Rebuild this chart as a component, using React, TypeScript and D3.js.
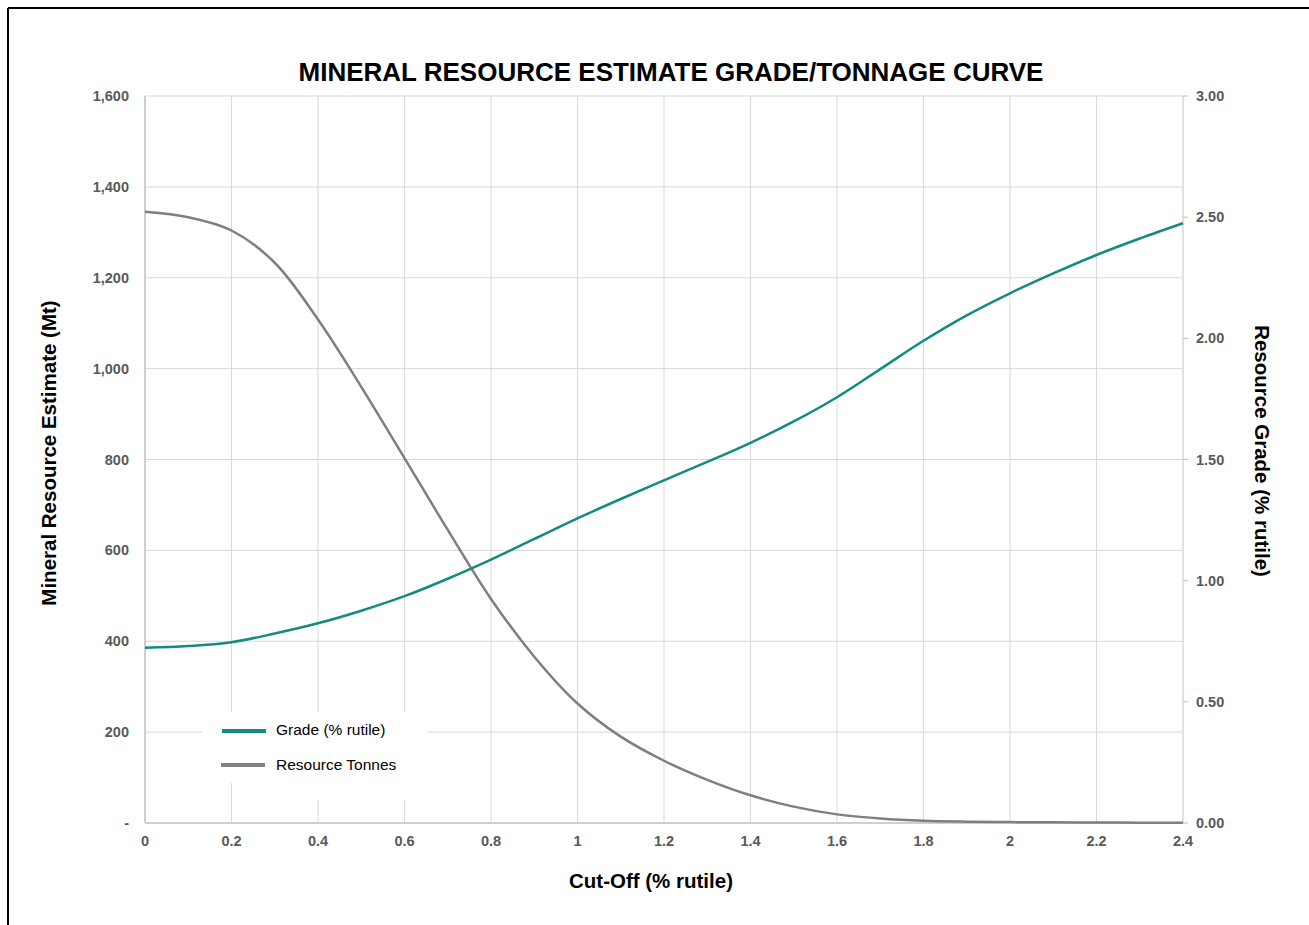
import React from "react";
import * as d3 from "d3";

const cutoffs = [0, 0.1, 0.2, 0.3, 0.4, 0.5, 0.6, 0.7, 0.8, 0.9, 1.0, 1.1, 1.2, 1.3, 1.4, 1.5, 1.6, 1.7, 1.8, 1.9, 2.0, 2.1, 2.2, 2.3, 2.4];
const tonnes = [1345, 1333, 1304, 1233, 1108, 960, 803, 645, 493, 366, 263, 190, 137, 95, 61, 36, 19, 10, 5, 3, 2, 1.5, 1, 0.7, 0.5];
const grade = [0.723, 0.73, 0.746, 0.782, 0.824, 0.876, 0.936, 1.008, 1.087, 1.172, 1.257, 1.337, 1.414, 1.49, 1.569, 1.657, 1.757, 1.873, 1.99, 2.095, 2.186, 2.268, 2.344, 2.412, 2.475];
const xTicks = [0, 0.2, 0.4, 0.6, 0.8, 1, 1.2, 1.4, 1.6, 1.8, 2, 2.2, 2.4];
const leftTicks = [0, 200, 400, 600, 800, 1000, 1200, 1400, 1600];
const rightTicks = [0, 0.5, 1, 1.5, 2, 2.5, 3];

const TEAL = "#138b81";
const GRAY = "#7f7f7f";
const FONT = "'Liberation Sans', Arial, sans-serif";

export default function App() {
  const left = 145, right = 1183, top = 96, bottom = 823;
  const x = d3.scaleLinear().domain([0, 2.4]).range([left, right]);
  const yL = d3.scaleLinear().domain([0, 1600]).range([bottom, top]);
  const yR = d3.scaleLinear().domain([0, 3]).range([bottom, top]);

  const tonLine = d3.line<number>().x((_, i) => x(cutoffs[i])).y((d) => yL(d)).curve(d3.curveCatmullRom.alpha(0.5));
  const gradeLine = d3.line<number>().x((_, i) => x(cutoffs[i])).y((d) => yR(d)).curve(d3.curveCatmullRom.alpha(0.5));

  const fmtL = (v: number) => (v === 0 ? "-" : d3.format(",")(v));

  return (
    <svg width={1309} height={925} style={{ position: "absolute", left: 0, top: 0, background: "#fff" }}>
      <rect x={0} y={0} width={1309} height={925} fill="#fff" />
      {/* border */}
      <line x1={8} y1={8} x2={1309} y2={8} stroke="#000" strokeWidth={2} />
      <line x1={8} y1={8} x2={8} y2={925} stroke="#000" strokeWidth={2} />

      {/* gridlines */}
      {xTicks.slice(1, -1).map((t) => (
        <line key={"vx" + t} x1={x(t)} x2={x(t)} y1={top} y2={bottom} stroke="#d9d9d9" strokeWidth={1} />
      ))}
      {leftTicks.slice(1).map((t) => (
        <line key={"hy" + t} x1={left} x2={right} y1={yL(t)} y2={yL(t)} stroke="#d9d9d9" strokeWidth={1} />
      ))}

      {/* axes */}
      <line x1={left} x2={left} y1={top} y2={bottom} stroke="#bfbfbf" strokeWidth={1.5} />
      <line x1={right} x2={right} y1={top} y2={bottom} stroke="#d9d9d9" strokeWidth={1.5} />
      <line x1={left} x2={right} y1={bottom} y2={bottom} stroke="#bfbfbf" strokeWidth={1.5} />
      {rightTicks.map((t) => (
        <line key={"rt" + t} x1={right} x2={right + 5} y1={yR(t)} y2={yR(t)} stroke="#bfbfbf" strokeWidth={1} />
      ))}

      {/* legend background */}
      <rect x={203} y={712} width={225} height={71} fill="#fff" />
      <rect x={236} y={783} width={192} height={17} fill="#fff" />

      {/* curves */}
      <path d={tonLine(tonnes) || ""} fill="none" stroke={GRAY} strokeWidth={2.5} />
      <path d={gradeLine(grade) || ""} fill="none" stroke={TEAL} strokeWidth={2.5} />

      {/* tick labels */}
      {leftTicks.map((t) => (
        <text key={"lt" + t} x={129} y={yL(t)} dy="0.35em" textAnchor="end" fontFamily={FONT} fontWeight="bold" fontSize={14.5} fill="#595959">
          {fmtL(t)}
        </text>
      ))}
      {rightTicks.map((t) => (
        <text key={"rl" + t} x={1196} y={yR(t)} dy="0.35em" textAnchor="start" fontFamily={FONT} fontWeight="bold" fontSize={14.5} fill="#595959">
          {d3.format(".2f")(t)}
        </text>
      ))}
      {xTicks.map((t) => (
        <text key={"xt" + t} x={x(t)} y={841} dy="0.35em" textAnchor="middle" fontFamily={FONT} fontWeight="bold" fontSize={14.5} fill="#595959">
          {String(t)}
        </text>
      ))}

      {/* titles */}
      <text x={671} y={72} dy="0.35em" textAnchor="middle" fontFamily={FONT} fontWeight="bold" fontSize={26} fill="#000">
        MINERAL RESOURCE ESTIMATE GRADE/TONNAGE CURVE
      </text>
      <text x={651} y={881} dy="0.35em" textAnchor="middle" fontFamily={FONT} fontWeight="bold" fontSize={20.5} fill="#000">
        Cut-Off (% rutile)
      </text>
      <text transform="translate(49,453) rotate(-90)" dy="0.35em" textAnchor="middle" fontFamily={FONT} fontWeight="bold" fontSize={20.5} fill="#000">
        Mineral Resource Estimate (Mt)
      </text>
      <text transform="translate(1262,451) rotate(90)" dy="0.35em" textAnchor="middle" fontFamily={FONT} fontWeight="bold" fontSize={20.5} fill="#000">
        Resource Grade (% rutile)
      </text>

      {/* legend */}
      <line x1={222} x2={266} y1={731} y2={731} stroke={TEAL} strokeWidth={4} />
      <text x={276} y={730} dy="0.35em" fontFamily={FONT} fontSize={15.5} fill="#000">Grade (% rutile)</text>
      <line x1={221} x2={265} y1={765} y2={765} stroke={GRAY} strokeWidth={4} />
      <text x={276} y={765} dy="0.35em" fontFamily={FONT} fontSize={15.5} fill="#000">Resource Tonnes</text>
    </svg>
  );
}
